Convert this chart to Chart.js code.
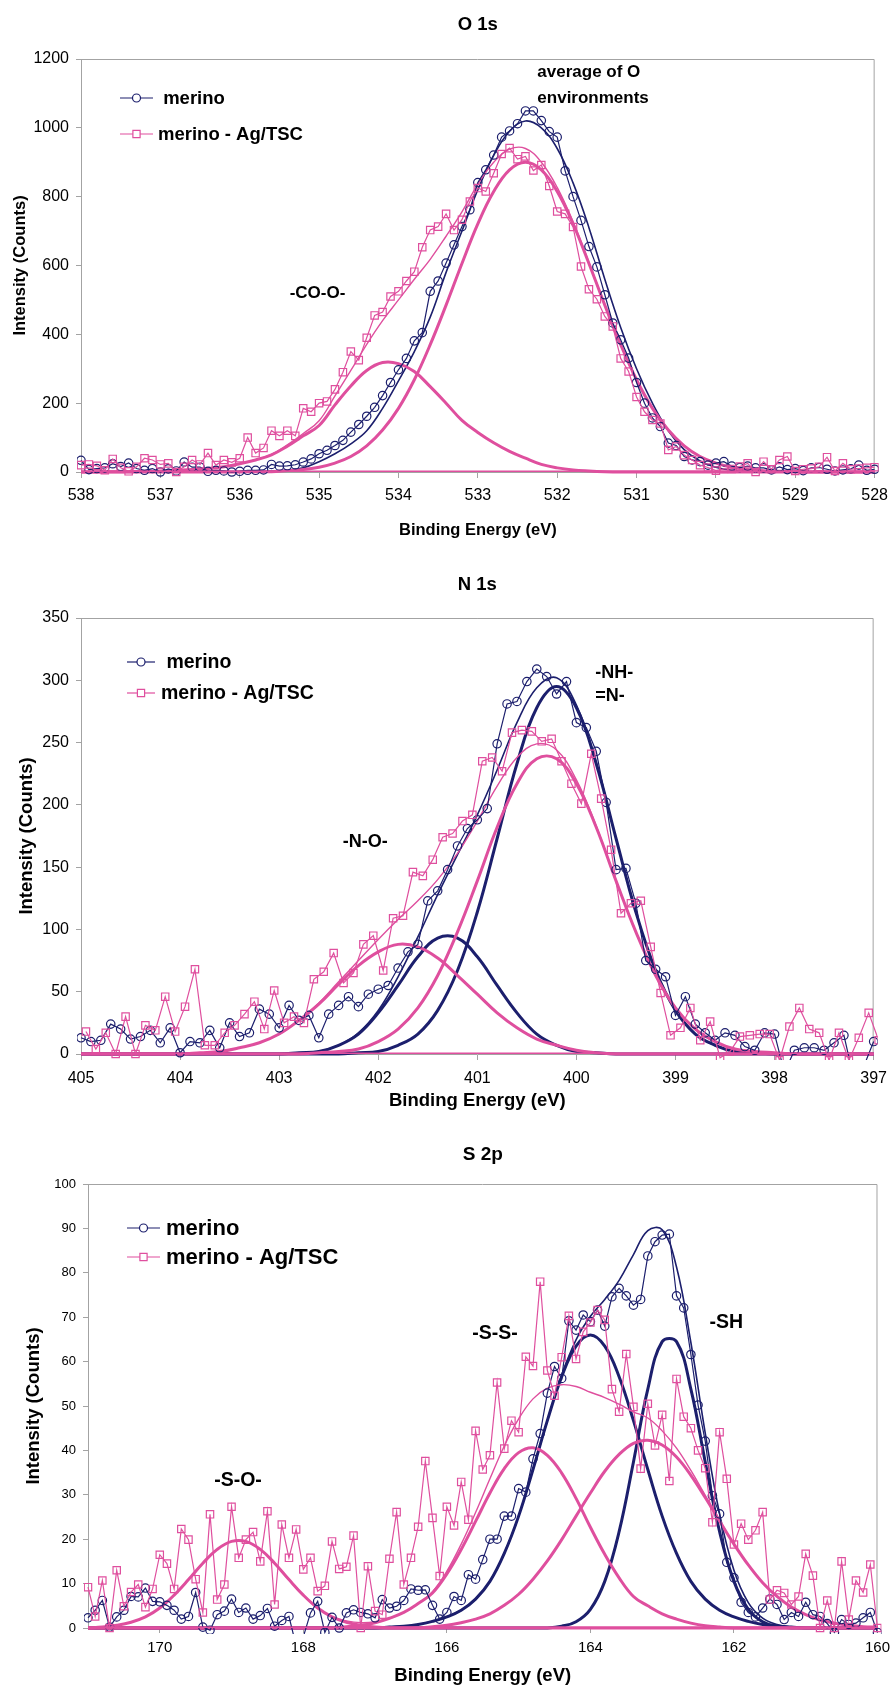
<!DOCTYPE html>
<html lang="en">
<head>
<meta charset="utf-8">
<title>XPS spectra: O 1s, N 1s, S 2p</title>
<script src="https://cdn.jsdelivr.net/npm/chart.js@4.4.0/dist/chart.umd.min.js"></script>
<style>
  body { margin: 0; background: #fff; }
  canvas { display: block; }
</style>
</head>
<body>
<canvas id="o1s" width="896" height="560"></canvas>
<canvas id="n1s" width="896" height="570"></canvas>
<canvas id="s2p" width="896" height="556"></canvas>
<script>
// ---------- spectra (binding energy runs high -> low) ----------
const dataStep = 0.1;   // eV between measured points
const fitStep = 0.2;    // eV between points of the fitted curves

// O 1s, 538.0 -> 528.0 eV
const o1sStart = 538;
const o1sTicksX = [538, 537, 536, 535, 534, 533, 532, 531, 530, 529, 528];
const o1sTicksY = [0, 200, 400, 600, 800, 1000, 1200];
const o1sMerino = [
  34, 7, 10, 12, 24, 16, 26, 10, 5, 10,
  0, 9, 3, 29, 14, 14, 2, 5, 3, 0,
  2, 5, 5, 6, 22, 17, 18, 21, 29, 38,
  53, 63, 77, 92, 116, 138, 162, 188, 222, 260,
  297, 330, 381, 405, 525, 555, 607, 660, 713, 762,
  841, 878, 921, 973, 991, 1012, 1049, 1049, 1021, 989,
  973, 875, 800, 731, 655, 596, 515, 433, 384, 331,
  260, 200, 157, 132, 84, 77, 45, 35, 30, 20,
  26, 30, 17, 13, 17, 12, 12, 6, 15, 7,
  10, 4, 12, 13, 8, 3, 6, 9, 20, 5,
  8
];
const o1sAgTsc = [
  20, 22, 18, 5, 38, 12, 2, 15, 40, 35,
  22, 25, 0, 15, 35, 22, 55, 20, 35, 28,
  40, 100, 55, 70, 120, 105, 120, 105, 185, 175,
  200, 205, 240, 290, 350, 325, 390, 455, 465, 510,
  525, 555, 582, 653, 703, 713, 750, 703, 733, 786,
  825, 815, 868, 924, 941, 909, 917, 876, 892, 831,
  757, 750, 712, 597, 531, 502, 452, 423, 330, 292,
  218, 175, 151, 141, 64, 74, 49, 35, 20, 13,
  4, 9, 9, 16, 25, 0, 30, 8, 35, 45,
  3, 8, 10, 15, 43, 3, 25, 8, 10, 12,
  14
];
const o1sFitMerino = [
  0, 0, 0, 0, 0, 0, 0, 1, 1, 1,
  2, 2, 3, 5, 12, 30, 53, 82, 120, 185,
  265, 350, 450, 580, 700, 820, 920, 990, 1020, 1000,
  940, 840, 710, 560, 420, 300, 200, 120, 65, 32,
  14, 5, 2, 0, 0, 0, 0, 0, 0, 0, 0
];
const o1sFitAgTsc = [
  0, 0, 1, 1, 2, 3, 5, 7, 10, 15,
  24, 36, 51, 79, 112, 149, 221, 295, 371, 440,
  500, 560, 618, 685, 756, 836, 900, 938, 940, 900,
  827, 727, 609, 486, 370, 268, 185, 122, 76, 45,
  26, 14, 7, 4, 2, 1, 0, 0, 0, 0, 0
];
const o1sPeakMain = [
  0, 0, 0, 0, 0, 0, 0, 0, 0, 0,
  0, 1, 1, 4, 7, 14, 26, 45, 76, 122,
  185, 268, 370, 485, 606, 721, 815, 878, 900, 878,
  815, 721, 606, 485, 370, 268, 185, 122, 76, 45,
  26, 14, 7, 4, 2, 1, 0, 0, 0, 0, 0
];
const o1sPeakCOO = [
  0, 0, 1, 1, 2, 3, 5, 7, 10, 15,
  24, 35, 50, 75, 105, 135, 195, 250, 295, 318,
  315, 292, 248, 200, 150, 115, 85, 60, 40, 22,
  12, 6, 3, 1, 0, 0, 0, 0, 0, 0,
  0, 0, 0, 0, 0, 0, 0, 0, 0, 0, 0
];

// N 1s, 405.0 -> 397.0 eV
const n1sStart = 405;
const n1sAgStart = 404.95;
const n1sTicksX = [405, 404, 403, 402, 401, 400, 399, 398, 397];
const n1sTicksY = [0, 50, 100, 150, 200, 250, 300, 350];
const n1sMerino = [
  13, 10, 11, 24, 20, 12, 14, 19, 9, 21,
  1, 10, 9, 19, 5, 25, 14, 17, 36, 32,
  21, 39, 27, 31, 13, 32, 39, 46, 38, 48,
  52, 55, 69, 82, 88, 123, 131, 148, 167, 181,
  188, 197, 249, 281, 283, 299, 309, 303, 289, 299,
  266, 262, 243, 202, 148, 149, 121, 75, 68, 62,
  31, 46, 24, 17, 11, 17, 15, 6, 3, 17,
  16, -15, 3, 5, 5, 3, 9, 15, -20, -10,
  10
];
const n1sAgTsc = [
  18, 4, 17, 0, 30, 0, 23, 19, 46, 18,
  38, 68, 7, 7, 17, 23, 32, 42, 20, 51,
  25, 30, 25, 60, 66, 81, 57, 65, 88, 95,
  67, 109, 111, 146, 143, 156, 174, 177, 187, 192,
  235, 238, 227, 258, 260, 259, 251, 253, 235, 217,
  201, 241, 205, 164, 113, 121, 123, 86, 49, 15,
  21, 37, 11, 26, -3, 2, 14, 15, 16, 16,
  -5, 22, 37, 20, 17, -5, 17, -5, 13, 33,
  11
];
const n1sFitMerino = [
  0, 0, 0, 0, 0, 0, 0, 0, 0, 0, 0,
  1, 2, 7, 17, 35, 62, 94, 128, 160, 192, 228, 266, 294, 302, 280, 234,
  173, 114, 67, 35, 16, 7, 2, 1, 0, 0, 0, 0, 0, 0
];
const n1sPeakNH = [
  0, 0, 0, 0, 0, 0, 0, 0, 0, 0, 0, 0, 0, 0,
  1, 2, 7, 16, 35, 67, 114, 173, 233, 278, 295, 278, 233, 173, 114, 67, 35, 16, 7, 2, 1,
  0, 0, 0, 0, 0, 0
];
const n1sPeakNO = [
  0, 0, 0, 0, 0, 0, 0, 0, 0, 0, 0,
  1, 2, 7, 16, 33, 55, 78, 93, 93, 78, 55, 33, 16, 7, 2, 1,
  0, 0, 0, 0, 0, 0, 0, 0, 0, 0, 0, 0, 0, 0
];
const n1sFitAgTsc = [
  0, 0, 0, 0, 0, 0,
  1, 2, 5, 9, 16, 27, 41, 58, 75, 92, 108, 123, 140, 161, 187, 215, 238, 249, 244, 220, 183,
  139, 98, 63, 37, 20, 10, 4, 2, 1, 0, 0, 0, 0, 0
];
const n1sAgPeakNH = [
  0, 0, 0, 0, 0, 0, 0, 0, 0, 0, 0, 0,
  1, 2, 4, 10, 20, 37, 63, 98, 139, 182, 217, 237, 237, 217, 182, 139, 98, 63, 37, 20, 10, 4, 2, 1,
  0, 0, 0, 0, 0
];
const n1sAgPeakNO = [
  0, 0, 0, 0, 0, 0,
  1, 2, 5, 9, 16, 27, 40, 56, 71, 82, 88, 86, 77, 63, 48, 33, 21, 12, 7, 3, 1,
  0, 0, 0, 0, 0, 0, 0, 0, 0, 0, 0, 0, 0, 0
];

// S 2p, 171.0 -> 160.0 eV
const s2pStart = 171;
const s2pTicksX = [170, 168, 166, 164, 162, 160];
const s2pTicksY = [0, 10, 20, 30, 40, 50, 60, 70, 80, 90, 100];
const s2pMerino = [
  2.3, 4, 6.2, 0.2, 2.5, 4, 7.1, 7, 9, 6,
  5.9, 5.1, 4, 2, 2.6, 8, 0.2, -0.5, 3, 3.8,
  6.5, 3.5, 4.5, 2, 2.8, 4.4, 0.4, 1.7, 2.6, -4,
  -2, 3.4, 6, -1, 2.4, 0, 3.4, 4.1, 3.5, 3.2,
  2.3, 6.4, 4.5, 4.9, 6.2, 8.8, 8.5, 8.6, 5.1, 2,
  3.5, 7.1, 6.2, 12, 11, 15.4, 20, 20, 25.2, 25.2,
  31.4, 30.6, 38.1, 43.8, 52.9, 58.9, 56.2, 69.2, 67.1, 70.5,
  69, 71.6, 68, 74.6, 76.5, 74.8, 72.7, 74, 83.8, 87,
  88.5, 88.7, 74.8, 72.1, 61.6, 50.2, 42.1, 29.8, 25.7, 14.8,
  11.3, 5.8, 3.5, 2.5, 4.5, 6.5, 5.3, 1.9, 3.5, 2.6,
  5.8, 3, 2.6, 1, -1, 1.9, 0.8, 1.1, 2.3, 3.5,
  -1
];
const s2pAgTsc = [
  9.2, 2.6, 10.7, 0, 13, 4.9, 8.1, 9.8, 4.7, 8.8,
  16.5, 14.5, 8.8, 22.3, 19.9, 11, 3.5, 25.6, 6.4, 9.8,
  27.3, 15.8, 19.9, 21.6, 15, 26.3, 5.3, 23.3, 15.8, 22.2,
  13.2, 15.8, 8.3, 9.5, 19.5, 13.3, 13.8, 20.8, 0, 13.9,
  3.8, 3, 15.6, 26.1, 9.8, 15.8, 22.8, 37.6, 24.8, 11.7,
  27.3, 23.1, 32.9, 24.4, 44.4, 35.7, 38.9, 55.3, 40.4, 46.7,
  44.1, 61.1, 59, 78, 58, 52.3, 61, 70.3, 60.6, 66.7,
  68.8, 71.6, 69.4, 53.8, 48.7, 61.7, 49.8, 35.9, 50.5, 41.1,
  48, 33.1, 56.1, 47.6, 45, 40, 36, 23.8, 44.1, 33.6,
  18.8, 23.5, 19.9, 22, 26.1, 6.4, 8.5, 7.9, 5.3, 7.1,
  16.7, 11.8, 0, 6.2, 0, 15, 1.9, 10.7, 8, 14.3,
  0
];
const s2pFitMerino = [
  0, 0, 0, 0, 0, 0, 0, 0, 0, 0, 0, 0, 0, 0, 0, 0, 0, 0, 0, 0, 0,
  0.2, 0.4, 0.8, 1.5, 2.5, 4, 6.5, 10.5, 16.8, 25.2, 35.7, 46.7,
  57, 64.9, 70.2, 74, 78.3, 84.1, 89.5, 89.7, 81.3, 64.3, 43.9, 25.7, 13, 5.7, 2.2, 0.8,
  0.2, 0, 0, 0, 0, 0, 0
];
const s2pPeakSS = [
  0, 0, 0, 0, 0, 0, 0, 0, 0, 0, 0, 0, 0, 0, 0, 0, 0, 0, 0, 0, 0,
  0.2, 0.4, 0.8, 1.5, 2.5, 4, 6.5, 10.5, 16.8, 25.2, 35.7, 46.7, 56.6, 63.5, 66,
  63.5, 56.6, 46.7, 35.7, 25.2, 16.8, 10.5, 6.5, 4, 2.5, 1.5, 0.8, 0.4, 0.2,
  0, 0, 0, 0, 0, 0
];
const s2pPeakSH = [
  0, 0, 0, 0, 0, 0, 0, 0, 0, 0, 0, 0, 0, 0, 0, 0, 0, 0, 0, 0,
  0, 0, 0, 0, 0, 0, 0, 0, 0, 0, 0, 0, 0,
  0.4, 1.4, 4.2, 10.5, 21.7, 37.4, 53.8, 64.5, 64.5, 53.8, 37.4, 21.7, 10.5, 4.2, 1.4, 0.4,
  0, 0, 0, 0, 0, 0, 0
];
const s2pFitAgTsc = [
  0, 0.2, 0.6, 1.3, 2.5, 4.5, 7.4, 10.9, 14.6, 17.7, 19.5, 19.5, 17.7, 14.6, 10.9, 7.4, 4.5, 2.5,
  1.6, 1.2, 1.4, 2.2, 3.5, 5.5, 8.2, 12.8, 18.9, 26, 33.6, 41, 47.1, 51.6, 54, 54.8, 54.4,
  53.1, 51.9, 50.4, 48.7, 47.3, 44.4, 40.5, 35.5, 29.9, 24.3,
  18.9, 14.2, 10.2, 7.1, 4.7, 3, 1.8, 1.1, 0.6, 0.3, 0.2
];
const s2pAgPeakSO = [
  0, 0.2, 0.6, 1.3, 2.5, 4.5, 7.4, 10.9, 14.6, 17.7, 19.5, 19.5, 17.7, 14.6, 10.9, 7.4, 4.5, 2.5,
  1.3, 0.6, 0.2,
  0, 0, 0, 0, 0, 0, 0, 0, 0, 0, 0, 0, 0, 0, 0, 0, 0, 0, 0,
  0, 0, 0, 0, 0, 0, 0, 0, 0, 0, 0, 0, 0, 0, 0, 0
];
const s2pAgPeakSS = [
  0, 0, 0, 0, 0, 0, 0, 0, 0, 0, 0, 0, 0, 0, 0, 0, 0, 0,
  0.3, 0.6, 1.2, 2.2, 3.5, 5.5, 7.9, 12.2, 17.7, 24, 30.4, 35.9, 39.5, 40.6, 38.9, 34.9,
  29.2, 22.7, 16.6, 11.3, 7.1, 5, 3.2, 2, 1.1, 0.5, 0.2,
  0, 0, 0, 0, 0, 0, 0, 0, 0, 0, 0
];
const s2pAgPeakSH = [
  0, 0, 0, 0, 0, 0, 0, 0, 0, 0, 0, 0, 0, 0, 0, 0, 0, 0, 0, 0, 0, 0, 0, 0,
  0.3, 0.6, 1.2, 2, 3.2, 5.1, 7.6, 11, 15.1, 19.9, 25.2, 30.4, 35.3, 39.1, 41.6, 42.3,
  41.2, 38.5, 34.4, 29.4, 24.1, 18.9, 14.2, 10.2, 7.1, 4.7, 3, 1.8, 1.1, 0.6, 0.3, 0.2
];

// ---------- drawing ----------
const navy = '#1c1f6d';
const pink = '#df4f9e';
const axisGrey = '#a3a3a3';
const FONT = '"Liberation Sans", Arial, Helvetica, sans-serif';

function series(start, step, values) {
  return values.map((v, i) => ({ x: +(start - i * step).toFixed(2), y: v }));
}

function measured(label, pts, color, style, order) {
  return {
    label, data: pts, order,
    borderColor: color, borderWidth: 1.2, tension: 0,
    pointStyle: style, pointRadius: style === 'rect' ? 5.2 : 4.2,
    pointBorderColor: color, pointBorderWidth: 1.2,
    pointBackgroundColor: 'rgba(0,0,0,0)',
    clip: { left: 4, right: 4, top: 4, bottom: 6 }
  };
}

function fitted(pts, color, width, order) {
  return { data: pts, order, borderColor: color, borderWidth: width, pointRadius: 0, tension: 0.4, clip: 2 };
}

function baseline(lo, hi) {
  return { data: [{ x: hi, y: 0 }, { x: lo, y: 0 }], order: 0, borderColor: pink, borderWidth: 3, pointRadius: 0 };
}

const decor = {
  id: 'decor',
  beforeDatasetsDraw(chart) {
    const { ctx, chartArea: a } = chart;
    ctx.save();
    ctx.strokeStyle = axisGrey;
    ctx.lineWidth = 1;
    ctx.beginPath();
    ctx.moveTo(a.left, a.top + 0.5);
    ctx.lineTo(a.right - 0.5, a.top + 0.5);
    ctx.lineTo(a.right - 0.5, a.bottom);
    ctx.stroke();
    ctx.restore();
  },
  afterDraw(chart, args, o) {
    const { ctx, chartArea: a, scales: { x, y } } = chart;
    const cx = (a.left + a.right) / 2;
    ctx.save();
    ctx.fillStyle = '#000';
    ctx.textBaseline = 'middle';
    ctx.textAlign = 'center';

    ctx.font = `bold ${o.titleSize}px ${FONT}`;
    ctx.fillText(o.title, cx, o.titleY);

    ctx.font = `bold ${o.axisSize}px ${FONT}`;
    ctx.fillText('Binding Energy (eV)', cx, o.xTitleY);
    ctx.save();
    ctx.translate(o.yTitleX, (a.top + a.bottom) / 2);
    ctx.rotate(-Math.PI / 2);
    ctx.fillText('Intensity (Counts)', 0, 0);
    ctx.restore();

    // peak assignments, placed in data coordinates
    ctx.font = `bold ${o.noteSize}px ${FONT}`;
    o.notes.forEach(n => {
      ctx.textAlign = n.align || 'center';
      ctx.fillText(n.text, x.getPixelForValue(n.x), y.getPixelForValue(n.y));
    });

    // legend for the two measured series
    const lg = o.legend;
    ctx.textAlign = 'left';
    ctx.font = `bold ${lg.size}px ${FONT}`;
    chart.data.datasets.slice(0, 2).forEach((ds, i) => {
      const ly = a.top + lg.rows[i];
      const x0 = a.left + lg.from, x1 = a.left + lg.to, xm = (x0 + x1) / 2;
      ctx.strokeStyle = ds.borderColor;
      ctx.lineWidth = 1.2;
      ctx.beginPath();
      ctx.moveTo(x0, ly);
      ctx.lineTo(x1, ly);
      ctx.stroke();
      ctx.fillStyle = '#fff';
      ctx.beginPath();
      if (ds.pointStyle === 'rect') ctx.rect(xm - 3.6, ly - 3.6, 7.2, 7.2);
      else ctx.arc(xm, ly, 4, 0, Math.PI * 2);
      ctx.fill();
      ctx.stroke();
      ctx.fillStyle = '#000';
      ctx.fillText(ds.label, a.left + lg.text, ly + 1);
    });
    ctx.restore();
  }
};

function panel(id, p) {
  new Chart(document.getElementById(id), {
    type: 'line',
    data: { datasets: p.datasets },
    plugins: [decor],
    options: {
      responsive: false,
      animation: false,
      events: [],
      devicePixelRatio: 1,
      layout: { padding: { top: p.top, right: p.right, left: 0, bottom: 0 } },
      scales: {
        x: {
          type: 'linear', reverse: true, min: p.xMin, max: p.xMax,
          afterBuildTicks: s => { s.ticks = p.xTicks.map(v => ({ value: v })); },
          afterFit: s => { s.height = p.xHeight; },
          grid: { drawOnChartArea: false, drawTicks: true, tickLength: p.xTickLen, color: axisGrey },
          border: { display: true, color: axisGrey, width: 1 },
          ticks: { color: '#000', autoSkip: false, maxRotation: 0, padding: p.xPad,
                   callback: v => String(v),
                   font: { family: FONT, size: p.xFont } }
        },
        y: {
          type: 'linear', min: 0, max: p.yMax,
          afterBuildTicks: s => { s.ticks = p.yTicks.map(v => ({ value: v })); },
          afterFit: s => { s.width = p.yWidth; },
          grid: { drawOnChartArea: false, drawTicks: true, tickLength: 5, color: axisGrey },
          border: { display: true, color: axisGrey, width: 1 },
          ticks: { color: '#000', autoSkip: false, padding: 7,
                   callback: v => String(v),
                   font: { family: FONT, size: p.yFont } }
        }
      },
      plugins: {
        legend: { display: false },
        tooltip: { enabled: false },
        decor: p.decor
      }
    }
  });
}

panel('o1s', {
  top: 59, right: 19, yWidth: 81, xHeight: 88,
  xMin: 528, xMax: 538, yMax: 1200, xTicks: o1sTicksX, yTicks: o1sTicksY,
  xTickLen: 6, xPad: 8, xFont: 16, yFont: 16,
  datasets: [
    measured(' merino', series(o1sStart, dataStep, o1sMerino), navy, 'circle', 2),
    measured('merino - Ag/TSC', series(o1sStart, dataStep, o1sAgTsc), pink, 'rect', 1),
    fitted(series(o1sStart, fitStep, o1sFitMerino), navy, 1.6, 4),
    fitted(series(o1sStart, fitStep, o1sFitAgTsc), pink, 1.4, 3),
    fitted(series(o1sStart, fitStep, o1sPeakMain), pink, 3, 3),
    fitted(series(o1sStart, fitStep, o1sPeakCOO), pink, 3, 3),
    baseline(528, 538)
  ],
  decor: {
    title: 'O 1s', titleSize: 18.5, titleY: 25,
    axisSize: 16.5, xTitleY: 530, yTitleX: 20,
    noteSize: 17,
    notes: [
      { text: 'average of O', x: 532.25, y: 1160, align: 'left' },
      { text: 'environments', x: 532.25, y: 1087, align: 'left' },
      { text: '-CO-O-', x: 535.02, y: 520 }
    ],
    legend: { size: 18.5, rows: [39, 75], from: 39, to: 72, text: 77 }
  }
});

panel('n1s', {
  top: 58, right: 19, yWidth: 81, xHeight: 76,
  xMin: 397, xMax: 405, yMax: 350, xTicks: n1sTicksX, yTicks: n1sTicksY,
  xTickLen: 6, xPad: 9, xFont: 16, yFont: 16,
  datasets: [
    measured(' merino', series(n1sStart, dataStep, n1sMerino), navy, 'circle', 2),
    measured('merino - Ag/TSC', series(n1sAgStart, dataStep, n1sAgTsc), pink, 'rect', 1),
    fitted(series(n1sStart, fitStep, n1sFitMerino), navy, 1.6, 4),
    fitted(series(n1sStart, fitStep, n1sPeakNH), navy, 3, 4),
    fitted(series(n1sStart, fitStep, n1sPeakNO), navy, 3, 4),
    fitted(series(n1sStart, fitStep, n1sFitAgTsc), pink, 1.4, 3),
    fitted(series(n1sStart, fitStep, n1sAgPeakNH), pink, 3, 3),
    fitted(series(n1sStart, fitStep, n1sAgPeakNO), pink, 3, 3),
    baseline(397, 405)
  ],
  decor: {
    title: 'N 1s', titleSize: 18.5, titleY: 25,
    axisSize: 18.5, xTitleY: 541, yTitleX: 27,
    noteSize: 18,
    notes: [
      { text: '-NH-', x: 399.81, y: 306, align: 'left' },
      { text: '=N-', x: 399.81, y: 287, align: 'left' },
      { text: '-N-O-', x: 402.13, y: 170 }
    ],
    legend: { size: 19.5, rows: [44, 75], from: 46, to: 74, text: 80 }
  }
});

panel('s2p', {
  top: 54, right: 11, yWidth: 88, xHeight: 58,
  xMin: 160, xMax: 171, yMax: 100, xTicks: s2pTicksX, yTicks: s2pTicksY,
  xTickLen: 5, xPad: 6, xFont: 15, yFont: 13,
  datasets: [
    measured('merino', series(s2pStart, dataStep, s2pMerino), navy, 'circle', 2),
    measured('merino - Ag/TSC', series(s2pStart, dataStep, s2pAgTsc), pink, 'rect', 1),
    fitted(series(s2pStart, fitStep, s2pFitMerino), navy, 1.6, 4),
    fitted(series(s2pStart, fitStep, s2pPeakSS), navy, 3, 4),
    fitted(series(s2pStart, fitStep, s2pPeakSH), navy, 3, 4),
    fitted(series(s2pStart, fitStep, s2pFitAgTsc), pink, 1.4, 3),
    fitted(series(s2pStart, fitStep, s2pAgPeakSO), pink, 3, 3),
    fitted(series(s2pStart, fitStep, s2pAgPeakSS), pink, 3, 3),
    fitted(series(s2pStart, fitStep, s2pAgPeakSH), pink, 3, 3),
    baseline(160, 171)
  ],
  decor: {
    title: 'S 2p', titleSize: 19, titleY: 25,
    axisSize: 18.5, xTitleY: 546, yTitleX: 34,
    noteSize: 19.5,
    notes: [
      { text: '-S-S-', x: 165.33, y: 66.4 },
      { text: '-SH', x: 162.34, y: 68.7, align: 'left' },
      { text: '-S-O-', x: 168.91, y: 33.3 }
    ],
    legend: { size: 22, rows: [44, 73], from: 39, to: 72, text: 78 }
  }
});
</script>
</body>
</html>
